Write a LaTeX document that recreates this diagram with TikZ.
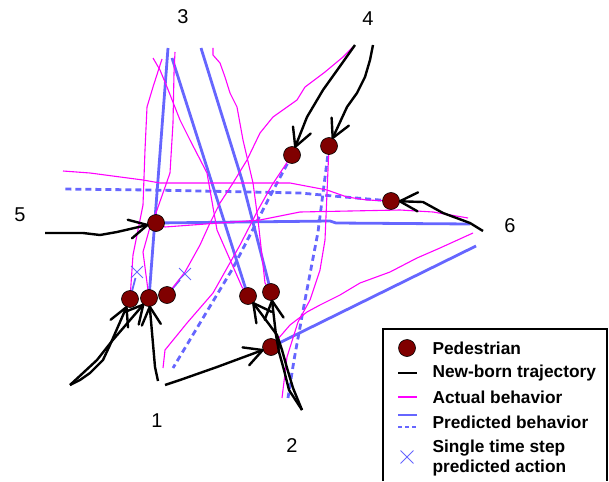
\documentclass[tikz,border=0pt]{standalone}
\usepackage{fontspec}
\setmainfont{Liberation Sans}
\usetikzlibrary{arrows.meta,backgrounds,shapes.misc}
\definecolor{pedred}{RGB}{128,0,0}
\definecolor{predblue}{RGB}{102,102,255}
\definecolor{actmag}{RGB}{255,0,255}
\pgfdeclarearrow{
  name = Vbarb,
  parameters = {\the\pgfarrowlength,\the\pgfarrowwidth},
  setup code = {
    \pgfarrowssettipend{0pt}
    \pgfarrowssetlineend{-.5\pgflinewidth}
    \pgfarrowssetbackend{-\pgfarrowlength}
    \pgfarrowsupperhullpoint{-\pgfarrowlength}{.5\pgfarrowwidth}
    \pgfarrowsupperhullpoint{0pt}{0pt}
    \pgfarrowssavethe\pgfarrowlength
    \pgfarrowssavethe\pgfarrowwidth
  },
  drawing code = {
    \pgfsetdash{}{0pt}
    \pgfsetroundcap
    \pgfsetroundjoin
    \pgfpathmoveto{\pgfqpoint{-\pgfarrowlength}{.5\pgfarrowwidth}}
    \pgfpathlineto{\pgfqpoint{0pt}{0pt}}
    \pgfpathlineto{\pgfqpoint{-\pgfarrowlength}{-.5\pgfarrowwidth}}
    \pgfusepathqstroke
  },
  defaults = {length=18pt, width=19pt}
}

\begin{document}
\begin{tikzpicture}[
  x=1pt, y=-1pt,
  ped/.style={circle, draw=black, line width=0.6pt, fill=pedred,
    minimum size=17pt, inner sep=0pt},
  newborn/.style={line width=2.4pt, line join=round, -{Vbarb}},
  actual/.style={actmag, line width=1.1pt, line join=round},
  pred/.style={predblue, line width=2.8pt, line join=round},
  predd/.style={pred, dash pattern=on 6pt off 4pt},
  stepcross/.style={cross out, draw=predblue, line width=0.9pt,
    minimum size=11pt, inner sep=0pt},
  lbl/.style={font=\fontsize{20}{24}\selectfont},
  legtext/.style={font=\bfseries\fontsize{17.3}{20}\selectfont, anchor=west, align=left}
]
\useasboundingbox (0,0) rectangle (609,481);

\node[lbl] (n3) at (183,17) {3};
\node[lbl] (n4) at (368,19) {4};
\node[lbl] (n5) at (20,215) {5};
\node[lbl] (n6) at (510,226) {6};
\node[lbl] (n1) at (157,421) {1};
\node[lbl] (n2) at (292,446) {2};

\node[ped] (p5) at (156,223) {};
\node[ped] (p1a) at (130,299) {};
\node[ped] (p1b) at (149,298) {};
\node[ped] (p1c) at (167,295) {};
\node[ped] (p2a) at (248,296) {};
\node[ped] (p2b) at (271,292) {};
\node[ped] (p2c) at (271,347) {};
\node[ped] (p4a) at (292,155) {};
\node[ped] (p4b) at (329,146) {};
\node[ped] (p6) at (391,201) {};

\node[stepcross] (x1a) at (137,272) {};
\node[stepcross] (x1c) at (185,274) {};

\coordinate (e1a) at (162,59);
\coordinate (e1b) at (175,52);
\coordinate (e1c) at (353,47);
\coordinate (e2a) at (153,58);
\coordinate (e2b) at (213,48);
\coordinate (e2c) at (473,233);
\coordinate (e4a) at (163,368);
\coordinate (e4b) at (282,398);
\coordinate (e5) at (468,218);
\coordinate (e6) at (63,171);

\coordinate (f1b) at (168,48);
\coordinate (f2a) at (172,58);
\coordinate (f2b) at (201,48);
\coordinate (f2c) at (476,246);
\coordinate (f4a) at (173,368);
\coordinate (f4b) at (288,398);
\coordinate (f5) at (470,224);
\coordinate (f6) at (62,189);

\coordinate (s5) at (45,233);
\coordinate (s4a) at (355,45);
\coordinate (s4b) at (373,45);
\coordinate (s6) at (483,231);
\coordinate (s1a) at (70,385);
\coordinate (s1b) at (158,381);
\coordinate (s2c) at (165,385);
\coordinate (s2) at (302,410);

\begin{scope}[on background layer]
\draw[pred] (p1b.center) -- (f1b);
\draw[pred] (p2a.center) -- (f2a);
\draw[pred] (p2b.center) -- (242,180) -- (f2b);
\draw[pred] (p5.center) -- (330,221) -- (336,223) -- (f5);
\draw[pred] (p2c.center) -- (f2c);
\draw[predd] (p6.center) -- (333,196) -- (300,193) -- (150,190) -- (f6);
\draw[predd] (p4a.center) -- (268,200) -- (233,268) -- (f4a);
\draw[predd] (p4b.center) -- (318,232) -- (305,300) -- (294,360) -- (f4b);
\draw[pred, line width=1.8pt] (p1a.center) -- (x1a);
\draw[pred, line width=1.8pt] (p1c.center) -- (x1c);

\draw[actual] (p1a.center) -- (133,255) -- (138,230) -- (143,205) -- (145,150)
  -- (147,107) -- (153,87) -- (e1a);
\draw[actual] (p1b.center) -- (146,275) -- (143,252) -- (150,227) -- (157,210)
  -- (170,173) -- (173,123) -- (174,73) -- (e1b);
\draw[actual] (p2a.center) -- (242,287) -- (217,230) -- (207,173) -- (190,140)
  -- (180,120) -- (167,87) -- (160,70) -- (e2a);
\draw[actual] (p2b.center) -- (265,283) -- (258,220) -- (253,183) -- (243,140)
  -- (237,107) -- (230,93) -- (225,77) -- (220,63) -- (213,55) -- (e2b);
\draw[actual] (p1c.center) -- (185,272) -- (200,245) -- (210,223) -- (220,203)
  -- (233,183) -- (247,160) -- (260,133) -- (273,117) -- (297,100) -- (305,87)
  -- (325,72) -- (343,57) -- (e1c);
\draw[actual] (p4a.center) -- (272,185) -- (258,210) -- (240,245) -- (213,293)
  -- (187,323) -- (165,350) -- (e4a);
\draw[actual] (p4b.center) -- (325,240) -- (320,270) -- (310,300) -- (298,322)
  -- (287,357) -- (e4b);
\draw[actual] (p6.center) -- (367,200) -- (347,197) -- (327,190) -- (290,183)
  -- (160,183) -- (143,180) -- (90,173) -- (e6);
\draw[actual] (p5.center) -- (165,227) -- (260,220) -- (300,212) -- (400,210)
  -- (433,212) -- (e5);
\draw[actual] (p2c.center) -- (290,325) -- (307,312) -- (320,305) -- (340,295)
  -- (360,283) -- (390,272) -- (417,258) -- (440,248) -- (e2c);
\end{scope}

\draw[newborn] (s5) -- (83,233) -- (100,235) -- (117,232) -- (p5);
\draw[newborn] (s4a) -- (343,62) -- (323,90) -- (307,117) -- (p4a);
\draw[newborn] (s4b) -- (370,60) -- (365,77) -- (357,93) -- (347,107) -- (p4b);
\draw[newborn] (s6) -- (470,223) -- (443,213) -- (423,202) -- (p6);
\draw[newborn] (s1a) -- (80,380) -- (90,373) -- (103,360) -- (110,345) -- (p1a);
\draw[newborn] (s1a) -- (83,373) -- (97,360) -- (112,341) -- (p1b);
\draw[newborn] (s1b) -- (155,367) -- (p1b);
\draw[newborn] (s2c) -- (180,380) -- (217,367) -- (p2c);
\draw[newborn] (s2) -- (293,388) -- (287,368) -- (282,350) -- (277,335) -- (p2a);
\draw[newborn] (s2) -- (289,390) -- (284,370) -- (279,352) -- (276,335) -- (p2b);

\draw[line width=1.5pt] (383,481) -- (383,329) -- (607,329) -- (607,481);
\node[ped] (kped) at (407,348) {};
\draw[line width=2.4pt] (398,373) -- (417,373);
\draw[actual] (398,397) -- (417,397);
\draw[pred] (398,415) -- (417,415);
\draw[pred, dash pattern=on 4pt off 3pt] (398,427) -- (417,427);
\node[stepcross, minimum size=12pt] (kx) at (407,457) {};
\node[legtext] (tped) at (429,348) {Pedestrian};
\node[legtext] (tnew) at (429,373) {New-born trajectory};
\node[legtext] (tact) at (429,397) {Actual behavior};
\node[legtext] (tpred) at (429,422) {Predicted behavior};
\node[legtext] (tstep) at (429,458) {Single time step\\predicted action};
\end{tikzpicture}
\end{document}
